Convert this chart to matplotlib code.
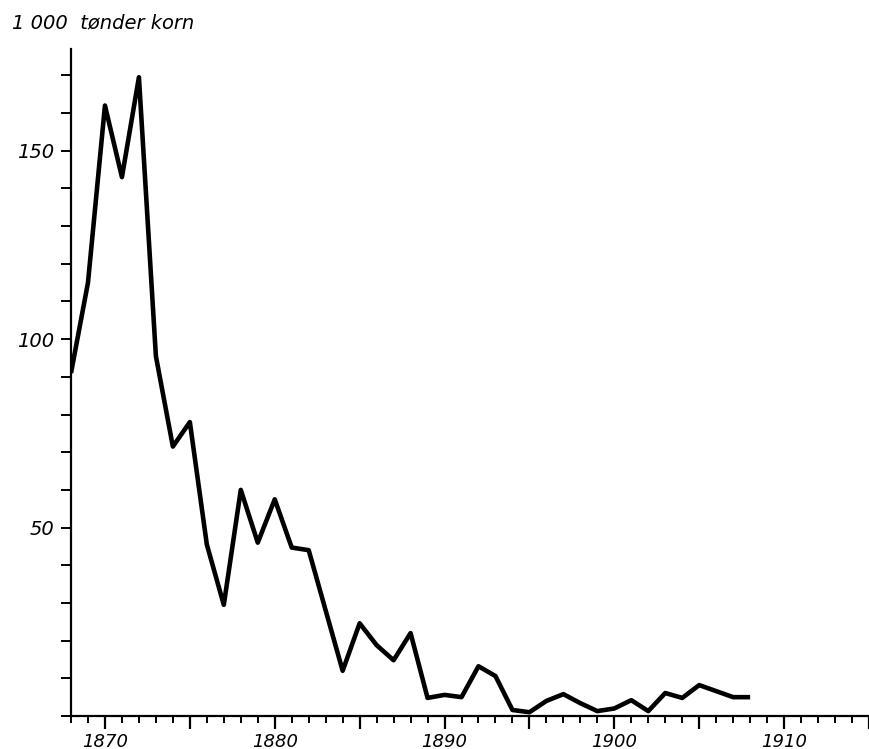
import matplotlib.pyplot as plt
from matplotlib.ticker import MultipleLocator

years = list(range(1868, 1909))
korn = [91, 115, 162, 143, 169.5, 95.5, 71.5, 78, 45.5, 29.5,
        60, 46, 57.5, 44.7, 44, 28, 12, 24.6, 18.8, 14.8,
        22, 4.8, 5.6, 5, 13.2, 10.6, 1.6, 1.0, 4, 5.8,
        3.4, 1.3, 2, 4.2, 1.3, 6.1, 4.8, 8.2, 6.6, 5, 5]

y_ticks = [50, 100, 150]
x_ticks = list(range(1870, 1916, 5))
x_labels = [str(t) if t % 10 == 0 else '' for t in x_ticks]

fig = plt.figure(figsize=(8.69, 7.49), dpi=100, facecolor='white')
ax = fig.add_axes([71 / 869, 33 / 749, 798 / 869, 667 / 749])

ax.plot(years, korn, color='black', linewidth=3.3,
        solid_joinstyle='round', solid_capstyle='butt')

ax.set_xlim(1868, 1915)
ax.set_ylim(0, 177)

for side in ('top', 'right'):
    ax.spines[side].set_visible(False)
for side in ('left', 'bottom'):
    ax.spines[side].set_linewidth(1.6)

ax.set_xticks(x_ticks)
ax.set_xticklabels(x_labels)
ax.xaxis.set_minor_locator(MultipleLocator(1))
ax.set_yticks(y_ticks)
ax.yaxis.set_minor_locator(MultipleLocator(10))

ax.tick_params(axis='x', which='major', length=9, width=1.6, pad=3,
               labelsize=13)
ax.tick_params(axis='x', which='minor', length=5, width=1.4)
ax.tick_params(axis='y', which='both', length=7, width=1.4, pad=5,
               labelsize=14)
for lbl in ax.get_xticklabels() + ax.get_yticklabels():
    lbl.set_fontstyle('italic')

fig.text(12 / 869, 1 - 28 / 749, '1 000  tønder korn', fontsize=14,
         fontstyle='italic', ha='left', va='baseline')

fig.savefig('out.png', dpi=100, facecolor='white')
